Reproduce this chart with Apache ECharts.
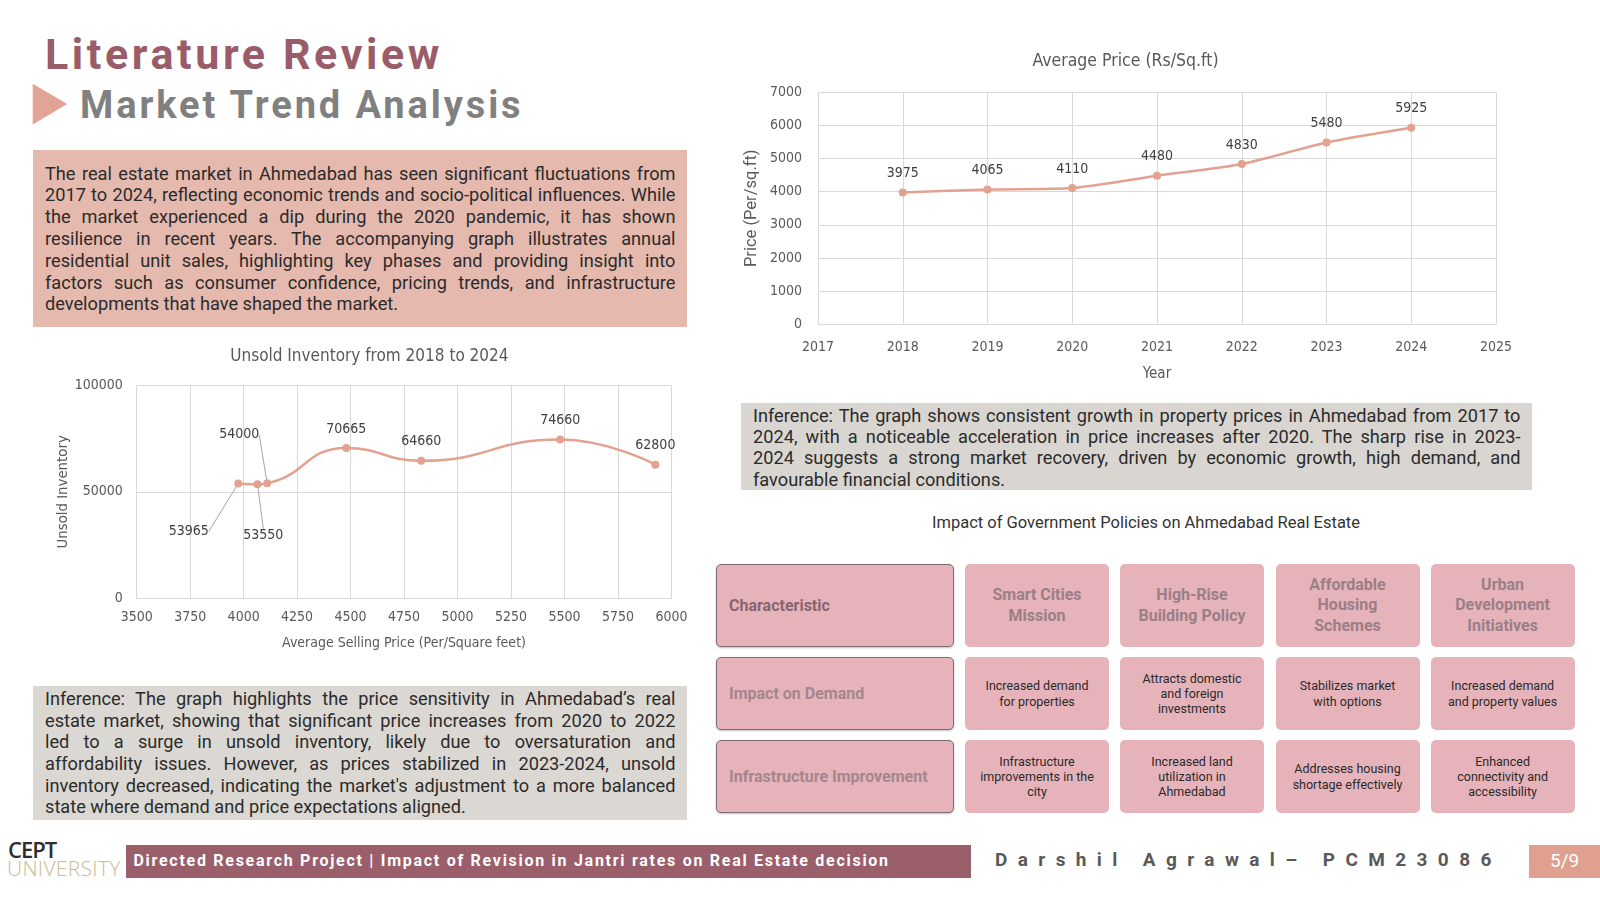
<!DOCTYPE html>
<html><head><meta charset="utf-8">
<script src="https://cdn.jsdelivr.net/npm/echarts@6/dist/echarts.min.js"></script>
<style>
html,body{margin:0;padding:0;background:#fff;}
#page{position:relative;width:1600px;height:900px;overflow:hidden;background:#fff;}
.rob{font-family:'Roboto','Liberation Sans',sans-serif;}
#chart{position:absolute;left:0;top:0;width:1600px;height:900px;z-index:2;}
.box{position:absolute;}
.para{position:absolute;font-family:'Roboto','Liberation Sans',sans-serif;font-size:18.2px;color:#2b2b2b;}
.para div{text-align:justify;text-align-last:justify;white-space:nowrap;}
.para div.last{text-align-last:left;}
.cell{position:absolute;background:#e7b3ba;border-radius:5px;display:flex;align-items:center;justify-content:center;text-align:center;white-space:pre-line;box-sizing:border-box;}
.cell.first{justify-content:flex-start;text-align:left;padding-left:12px;border:1.5px solid #7e6c70;box-shadow:0 1px 2px rgba(0,0,0,0.25);}
.hdr{font-size:16px;font-weight:700;color:#9a7f86;line-height:20.5px;}
.body{font-size:12.5px;color:#2a2a2a;line-height:15.3px;}
.rl{font-size:16px;font-weight:700;color:#a4868d;}
</style></head>
<body><div id="page">
  <div class="box rob" style="left:45px;top:33px;font-size:43px;line-height:43px;font-weight:700;letter-spacing:3.6px;color:#9a5c68;">Literature Review</div>
  <svg class="box" style="left:0;top:0;" width="80" height="140"><polygon points="32.7,83.7 67.3,104 32.7,124.5" fill="#e2a595"/></svg>
  <div class="box rob" style="left:80px;top:86px;font-size:38px;line-height:38px;font-weight:700;letter-spacing:2.9px;color:#808080;">Market Trend Analysis</div>

  <div class="box" style="left:32.7px;top:150px;width:654px;height:176.5px;background:#e6b9ae;"></div>
  <div id="p1" class="para" style="left:45px;top:162.6px;width:630.5px;line-height:21.8px;"></div>

  <div class="box" style="left:741px;top:403px;width:791px;height:87px;background:#d9d6d1;"></div>
  <div id="p2" class="para" style="left:753px;top:404.6px;width:767.5px;line-height:21.4px;"></div>

  <div class="box" style="left:32.7px;top:686px;width:654px;height:133.5px;background:#dbd8d3;"></div>
  <div id="p3" class="para" style="left:45px;top:688.2px;width:630.5px;line-height:21.6px;"></div>

  <div class="box rob" style="left:846px;top:512px;width:600px;text-align:center;font-size:16.5px;line-height:21px;color:#333;">Impact of Government Policies on Ahmedabad Real Estate</div>
  <div id="table"></div>

  <div class="box" style="left:8px;top:838px;font-family:'Open Sans',sans-serif;font-size:22px;line-height:22px;font-weight:600;color:#2e2e2e;letter-spacing:-1px;">CEPT</div>
  <div class="box" style="left:7px;top:858px;font-family:'Open Sans',sans-serif;font-size:21px;line-height:21px;font-weight:300;color:#c8bc96;letter-spacing:0.3px;">UNIVERSITY</div>
  <div class="box rob" style="left:125.5px;top:845px;width:845px;height:32.6px;background:#9b5e6b;color:#fff;font-size:16px;font-weight:700;letter-spacing:1.72px;line-height:32.6px;padding-left:8px;box-sizing:border-box;white-space:nowrap;overflow:hidden;">Directed Research Project | Impact of Revision in Jantri rates on Real Estate decision</div>
  <div class="box rob" style="left:995px;top:848px;font-size:19px;line-height:24px;font-weight:700;letter-spacing:10.4px;color:#595959;white-space:nowrap;">Darshil Agrawal– PCM23086</div>
  <div class="box rob" style="left:1528.6px;top:845px;width:72px;height:32.6px;background:#e0a08f;color:#fff;font-size:19px;line-height:32.6px;text-align:center;">5/9</div>

  <div id="chart"></div>
</div>
<script>
// ---------- data ----------
const years = [2018, 2019, 2020, 2021, 2022, 2023, 2024];
const avgPrice = [3975, 4065, 4110, 4480, 4830, 5480, 5925];
const sellingPrice = [3975, 4065, 4110, 4480, 4830, 5480, 5925];
const unsoldInventory = [53965, 53550, 54000, 70665, 64660, 74660, 62800];
const priceYTicks = [0, 1000, 2000, 3000, 4000, 5000, 6000, 7000];
const yearTicks = [2017, 2018, 2019, 2020, 2021, 2022, 2023, 2024, 2025];
const sellingXTicks = [3500, 3750, 4000, 4250, 4500, 4750, 5000, 5250, 5500, 5750, 6000];
const unsoldYTicks = [0, 50000, 100000];

const rowLabels = ['Characteristic', 'Impact on Demand', 'Infrastructure Improvement'];
const policies = ['Smart Cities\nMission', 'High-Rise\nBuilding Policy', 'Affordable\nHousing\nSchemes', 'Urban\nDevelopment\nInitiatives'];
const demandImpact = ['Increased demand\nfor properties', 'Attracts domestic\nand foreign\ninvestments', 'Stabilizes market\nwith options', 'Increased demand\nand property values'];
const infraImpact = ['Infrastructure\nimprovements in the\ncity', 'Increased land\nutilization in\nAhmedabad', 'Addresses housing\nshortage effectively', 'Enhanced\nconnectivity and\naccessibility'];

const introLines = [
 'The real estate market in Ahmedabad has seen significant fluctuations from',
 '2017 to 2024, reflecting economic trends and socio-political influences. While',
 'the market experienced a dip during the 2020 pandemic, it has shown',
 'resilience in recent years. The accompanying graph illustrates annual',
 'residential unit sales, highlighting key phases and providing insight into',
 'factors such as consumer confidence, pricing trends, and infrastructure',
 'developments that have shaped the market.'];
const priceInferenceLines = [
 'Inference: The graph shows consistent growth in property prices in Ahmedabad from 2017 to',
 '2024, with a noticeable acceleration in price increases after 2020. The sharp rise in 2023-',
 '2024 suggests a strong market recovery, driven by economic growth, high demand, and',
 'favourable financial conditions.'];
const unsoldInferenceLines = [
 'Inference: The graph highlights the price sensitivity in Ahmedabad\u2019s real',
 'estate market, showing that significant price increases from 2020 to 2022',
 'led to a  surge in unsold inventory, likely due to oversaturation and',
 'affordability issues. However, as prices stabilized in 2023-2024, unsold',
 'inventory decreased, indicating the market\'s adjustment to a more balanced',
 'state where demand and price expectations aligned.'];

// ---------- text blocks ----------
function fillPara(id, lines) {
  const el = document.getElementById(id);
  const W = parseFloat(el.style.width);
  lines.forEach((t, i) => {
    const d = document.createElement('div');
    d.textContent = t;
    if (i === lines.length - 1) d.className = 'last';
    el.appendChild(d);
  });
  Array.from(el.children).forEach(d => {
    const s = document.createElement('span');
    s.textContent = d.textContent;
    s.style.whiteSpace = 'nowrap';
    s.style.visibility = 'hidden';
    s.style.position = 'absolute';
    el.appendChild(s);
    const w = s.getBoundingClientRect().width;
    el.removeChild(s);
    if (w > W) d.style.letterSpacing = ((W - w) / Math.max(1, d.textContent.length - 1) - 0.05) + 'px';
  });
}
fillPara('p1', introLines);
fillPara('p2', priceInferenceLines);
fillPara('p3', unsoldInferenceLines);

// ---------- table ----------
(function () {
  const t = document.getElementById('table');
  const rowsY = [[564, 83], [657, 73], [740, 73]];
  const colX = [965, 1120, 1275.5, 1430.6];
  const colW = 144;
  const rowData = [policies, demandImpact, infraImpact];
  rowsY.forEach((r, ri) => {
    const f = document.createElement('div');
    f.className = 'cell first rob';
    f.style.cssText = `left:716px;top:${r[0]}px;width:238px;height:${r[1]}px;`;
    const s = document.createElement('span');
    s.className = 'rl';
    if (ri === 0) s.style.color = '#86666e';
    s.textContent = rowLabels[ri];
    f.appendChild(s);
    t.appendChild(f);
    rowData[ri].forEach((txt, ci) => {
      const c = document.createElement('div');
      c.className = 'cell rob';
      c.style.cssText = `left:${colX[ci]}px;top:${r[0]}px;width:${colW}px;height:${r[1]}px;`;
      const sp = document.createElement('span');
      sp.className = ri === 0 ? 'hdr' : 'body';
      sp.textContent = txt;
      c.appendChild(sp);
      t.appendChild(c);
    });
  });
})();

// ---------- charts ----------
const FONT = "'Liberation Sans Narrow','DejaVu Sans Condensed',sans-serif";
const LINE = '#e3a190';
const GRIDC = '#d9d9d9';
const AXC = '#595959';
const chart = echarts.init(document.getElementById('chart'), null, { renderer: 'canvas' });
const labelMoves = { 0: [-49.5, 67], 1: [5.8, 70.4], 2: [-28, -29.7] };

chart.setOption({
  backgroundColor: 'transparent',
  animation: false,
  graphic: [
    { type: 'text', x: 1125.5, y: 61, style: { text: 'Average Price (Rs/Sq.ft)', align: 'center', verticalAlign: 'middle', font: "17.5px " + FONT, fill: AXC } },
    { type: 'text', x: 369.4, y: 357, style: { text: 'Unsold Inventory from 2018 to 2024', align: 'center', verticalAlign: 'middle', font: "17px " + FONT, fill: AXC } }
  ],
  grid: [
    { left: 818, top: 92, width: 678, height: 232.5 },
    { left: 136.7, top: 385.7, width: 534.7, height: 212.3 }
  ],
  xAxis: [
    { type: 'value', gridIndex: 0, min: yearTicks[0], max: yearTicks[yearTicks.length - 1], interval: 1,
      name: 'Year', nameLocation: 'middle', nameGap: 42, nameTextStyle: { color: AXC, fontSize: 15, fontFamily: FONT },
      axisLine: { show: true, lineStyle: { color: GRIDC } }, axisTick: { show: false },
      axisLabel: { color: AXC, fontSize: 14, fontFamily: FONT, margin: 16, formatter: v => String(v) },
      splitLine: { show: true, lineStyle: { color: GRIDC } } },
    { type: 'value', gridIndex: 1, min: sellingXTicks[0], max: sellingXTicks[sellingXTicks.length - 1], interval: 250,
      name: 'Average Selling Price (Per/Square feet)', nameLocation: 'middle', nameGap: 38, nameTextStyle: { color: AXC, fontSize: 14, fontFamily: FONT },
      axisLine: { show: true, lineStyle: { color: GRIDC } }, axisTick: { show: false },
      axisLabel: { color: AXC, fontSize: 14, fontFamily: FONT, margin: 12, formatter: v => String(v) },
      splitLine: { show: true, lineStyle: { color: GRIDC } } }
  ],
  yAxis: [
    { type: 'value', gridIndex: 0, min: priceYTicks[0], max: priceYTicks[priceYTicks.length - 1], interval: 1000,
      name: 'Price (Per/sq.ft)', nameLocation: 'middle', nameGap: 58, nameTextStyle: { color: AXC, fontSize: 16.5, fontFamily: "'Roboto',sans-serif" },
      axisLine: { show: false }, axisTick: { show: false },
      axisLabel: { color: AXC, fontSize: 14, fontFamily: FONT, margin: 16, formatter: v => String(v) },
      splitLine: { show: true, lineStyle: { color: GRIDC } } },
    { type: 'value', gridIndex: 1, min: unsoldYTicks[0], max: unsoldYTicks[unsoldYTicks.length - 1], interval: 50000,
      name: 'Unsold Inventory', nameLocation: 'middle', nameGap: 66, nameTextStyle: { color: AXC, fontSize: 14.8, fontFamily: FONT },
      axisLine: { show: false }, axisTick: { show: false },
      axisLabel: { color: AXC, fontSize: 14, fontFamily: FONT, margin: 14, formatter: v => String(v) },
      splitLine: { show: true, lineStyle: { color: GRIDC } } }
  ],
  series: [
    { type: 'line', xAxisIndex: 0, yAxisIndex: 0, smooth: 0.25,
      data: years.map((y, i) => [y, avgPrice[i]]),
      symbol: 'circle', symbolSize: 8,
      lineStyle: { color: LINE, width: 2.5 }, itemStyle: { color: LINE },
      label: { show: true, position: 'top', distance: 8, color: '#404040', fontSize: 14, fontFamily: FONT, formatter: p => String(p.value[1]) } },
    { type: 'line', xAxisIndex: 1, yAxisIndex: 1, smooth: true,
      data: sellingPrice.map((x, i) => {
        const item = { value: [x, unsoldInventory[i]] };
        if (labelMoves[i]) item.labelLine = { show: true, lineStyle: { color: '#a6a6a6', width: 1 } };
        return item;
      }),
      symbol: 'circle', symbolSize: 8,
      lineStyle: { color: LINE, width: 2.5 }, itemStyle: { color: LINE },
      label: { show: true, position: 'top', distance: 8, color: '#404040', fontSize: 14, fontFamily: FONT, formatter: p => String(p.value[1]) },
      labelLine: { show: false, lineStyle: { color: '#a6a6a6', width: 1 } },
      labelLayout: p => labelMoves[p.dataIndex] ? { dx: labelMoves[p.dataIndex][0], dy: labelMoves[p.dataIndex][1] } : {} }
  ]
});
</script>
</body></html>
